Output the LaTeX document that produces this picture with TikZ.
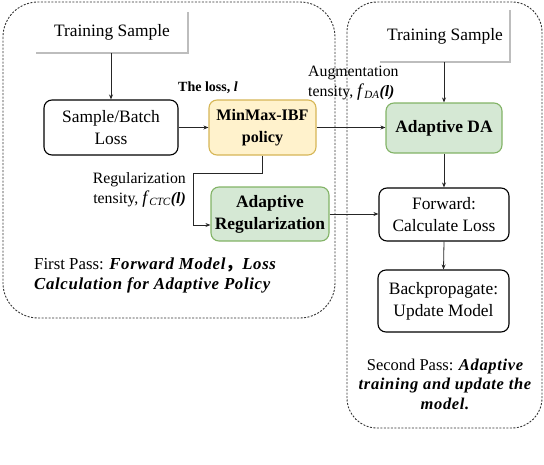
\documentclass[tikz,border=0pt]{standalone}
\usepackage{fontspec}
\setmainfont{Liberation Serif}
\newfontfamily\cjk{Noto Sans CJK SC}
\usetikzlibrary{arrows.meta}
\definecolor{yfill}{HTML}{FFF2CC}
\definecolor{ydraw}{HTML}{D6B656}
\definecolor{gfill}{HTML}{D5E8D4}
\definecolor{gdraw}{HTML}{82B366}
\definecolor{shadowgray}{HTML}{BDBDBD}
\newcommand\bitxt[1]{{\bfseries\itshape\addfontfeature{LetterSpace=4}#1}}
\begin{document}
\begin{tikzpicture}[x=1pt,y=-1pt,
 plain/.style={draw=black, line width=1.1pt, rounded corners=8pt, fill=white, align=center, inner sep=0pt, font=\fontsize{17.4}{22}\selectfont},
 yellowbox/.style={plain, draw=ydraw, fill=yfill, font=\fontsize{16.1}{22}\selectfont\bfseries},
 greenbox/.style={plain, draw=gdraw, fill=gfill, font=\fontsize{17.4}{22}\selectfont\bfseries},
 sample/.style={inner sep=0pt, align=center, font=\fontsize{17.4}{22}\selectfont},
 shadowline/.style={draw=shadowgray, line width=2pt},
 conn/.style={draw=black!85, line width=0.8pt, -{Stealth[length=5pt,width=4pt]}},
 passbox/.style={draw=black!80, line width=0.9pt, dash pattern=on 2pt off 1.5pt},
 lbl/.style={font=\fontsize{15.8}{20}\selectfont, inner sep=0pt},
]
\useasboundingbox (0,0) rectangle (544,464);
% pass containers
\draw[passbox, rounded corners=35pt] (3,2) rectangle (335,318);
\draw[passbox, rounded corners=30pt] (347,2) rectangle (542,428);

% training samples
\node[sample, minimum width=152pt, minimum height=41pt] (ts1) at (112,32.5) {Training Sample};
\draw[shadowline] (ts1.north east) -- (ts1.south east) -- (ts1.south west);
\node[sample, minimum width=130pt, minimum height=52pt] (ts2) at (445,36) {Training Sample};
\draw[shadowline] (ts2.north east) -- (ts2.south east) -- (ts2.south west);

% boxes
\node[plain, minimum width=134pt, minimum height=55pt] (sb) at (111,127.5) {Sample/Batch\\Loss};
\node[yellowbox, minimum width=107pt, minimum height=55pt] (mm) at (262.5,127.5) {MinMax-IBF\\policy};
\node[greenbox, minimum width=116pt, minimum height=50pt] (da) at (444,128) {Adaptive DA};
\node[greenbox, minimum width=118pt, minimum height=54pt] (ar) at (270,214) {Adaptive\\Regularization};
\node[plain, minimum width=130pt, minimum height=53pt] (fw) at (444,214.5) {Forward:\\Calculate Loss};
\node[plain, minimum width=131pt, minimum height=62pt] (bp) at (443.5,301) {Backpropagate:\\Update Model};

% connectors
\coordinate (bend) at (193,173);
\draw[conn] (sb.north |- ts1.south) -- (sb.north);
\draw[conn] (sb.east) -- (mm.west);
\draw[conn] (mm.east) -- (da.west |- mm.east);
\draw[conn] (mm.south) |- (bend) |- ([yshift=-11pt]ar.west);
\draw[conn] (ar.east) -- (fw.west |- ar.east);
\draw[conn] (da.north |- ts2.south) -- (da.north);
\draw[conn] (da.south) -- (fw.north);
\draw[conn] (fw.south) -- (bp.north);

% labels
\node[inner sep=0pt, font=\fontsize{14}{16}\selectfont\bfseries] (lossl) at (208,88) {The loss, \textit{l}};
\node[lbl, align=left, anchor=west] (auglbl) at (308,83) {Augmentation\\tensity, {\fontsize{18}{20}\selectfont\textit{f}}\textsubscript{\textit{DA}}\textbf{\textit{(l)}}};
\node[lbl, align=right, anchor=east] (reglbl) at (186,190) {Regularization\\tensity, {\fontsize{18}{20}\selectfont\textit{f}}\textsubscript{\textit{CTC}}\textbf{\textit{(l)}}};

\node[inner sep=0pt, align=left, anchor=west, font=\fontsize{16.8}{20}\selectfont] (fp) at (34,275)
 {First Pass: \bitxt{Forward Model{\cjk ，}Loss}\\\bitxt{Calculation for Adaptive Policy}};
\node[inner sep=0pt, align=center, font=\fontsize{16.5}{19.5}\selectfont] (sp) at (445,384)
 {Second Pass: \bitxt{Adaptive}\\\bitxt{training and update the}\\\bitxt{model.}};
\end{tikzpicture}
\end{document}
